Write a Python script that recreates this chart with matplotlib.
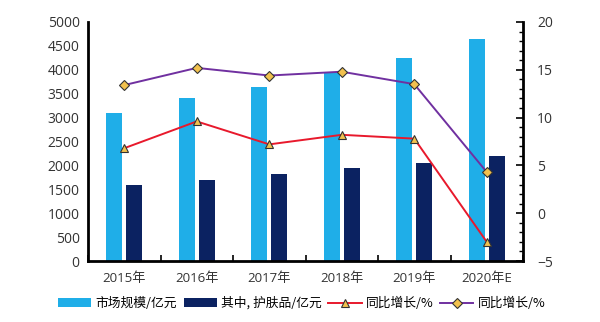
import matplotlib
matplotlib.use('Agg')
import matplotlib.pyplot as plt
from matplotlib.ticker import MultipleLocator, FixedLocator
import numpy as np

plt.rcParams['font.family'] = ['Open Sans', 'Noto Sans CJK SC', 'DejaVu Sans']

years = ['2015年', '2016年', '2017年', '2018年', '2019年', '2020年E']
market = [3100, 3400, 3650, 3950, 4250, 4650]
skincare = [1600, 1700, 1820, 1940, 2050, 2200]
growth_red = [6.8, 9.6, 7.2, 8.2, 7.8, -3.0]
growth_purple = [13.4, 15.2, 14.4, 14.8, 13.5, 4.3]

x = np.arange(len(years))
w = 0.22

fig = plt.figure(figsize=(6, 3.22), dpi=100)
ax = fig.add_axes([0.1467, 0.1894, 0.725, 0.7423])
ax2 = ax.twinx()

b1 = ax.bar(x - 0.14, market, w, color='#1FAEE8', label='市场规模/亿元')
b2 = ax.bar(x + 0.14, skincare, w, color='#0B2261', label='其中, 护肤品/亿元')
l1, = ax2.plot(x, growth_red, color='#E8192C', lw=1.4, marker='^', ms=6,
               mfc='#F2C14E', mec='#333333', mew=0.8, label='同比增长/%')
l2, = ax2.plot(x, growth_purple, color='#7030A0', lw=1.4, marker='D', ms=5,
               mfc='#F2C14E', mec='#333333', mew=0.8, label='同比增长/%')

ax.set_xlim(-0.5, 5.5)
ax.set_ylim(0, 5000)
ax.set_yticks(range(0, 5001, 500))
ax2.set_ylim(-5, 20)
ax2.set_yticks(range(-5, 21, 5))
ax2.yaxis.set_minor_locator(MultipleLocator(1))

ax.set_xticks(x)
ax.set_xticklabels(years)
ax.xaxis.set_minor_locator(FixedLocator(np.arange(-0.5, 6, 1)))

for a in (ax, ax2):
    a.spines['top'].set_visible(False)
ax.spines['right'].set_visible(False)
ax2.spines['left'].set_visible(False)
ax2.spines['bottom'].set_visible(False)
ax.spines['left'].set_linewidth(2)
ax.spines['bottom'].set_linewidth(2)
ax2.spines['right'].set_linewidth(2)

ax.tick_params(axis='x', which='major', length=0, pad=8, labelsize=9.5, colors='#333333')
ax.tick_params(axis='x', which='minor', direction='in', length=4, width=1.2)
ax.tick_params(axis='y', length=0, pad=6, labelsize=10, colors='#333333')
ax2.tick_params(axis='y', which='major', direction='in', length=5, width=1.2,
                pad=10, labelsize=10, labelcolor='#333333', color='black')
ax2.tick_params(axis='y', which='minor', direction='in', length=3, width=1)

fig.legend([b1, b2, l1, l2], [h.get_label() for h in (b1, b2, l1, l2)],
           loc='center', bbox_to_anchor=(0.503, 0.058), ncol=4, frameon=False,
           handlelength=2.6, columnspacing=0.5, handletextpad=0.35,
           prop={'family': ['Noto Sans CJK SC', 'DejaVu Sans'], 'size': 9.2})

plt.savefig('out.png', dpi=100)
